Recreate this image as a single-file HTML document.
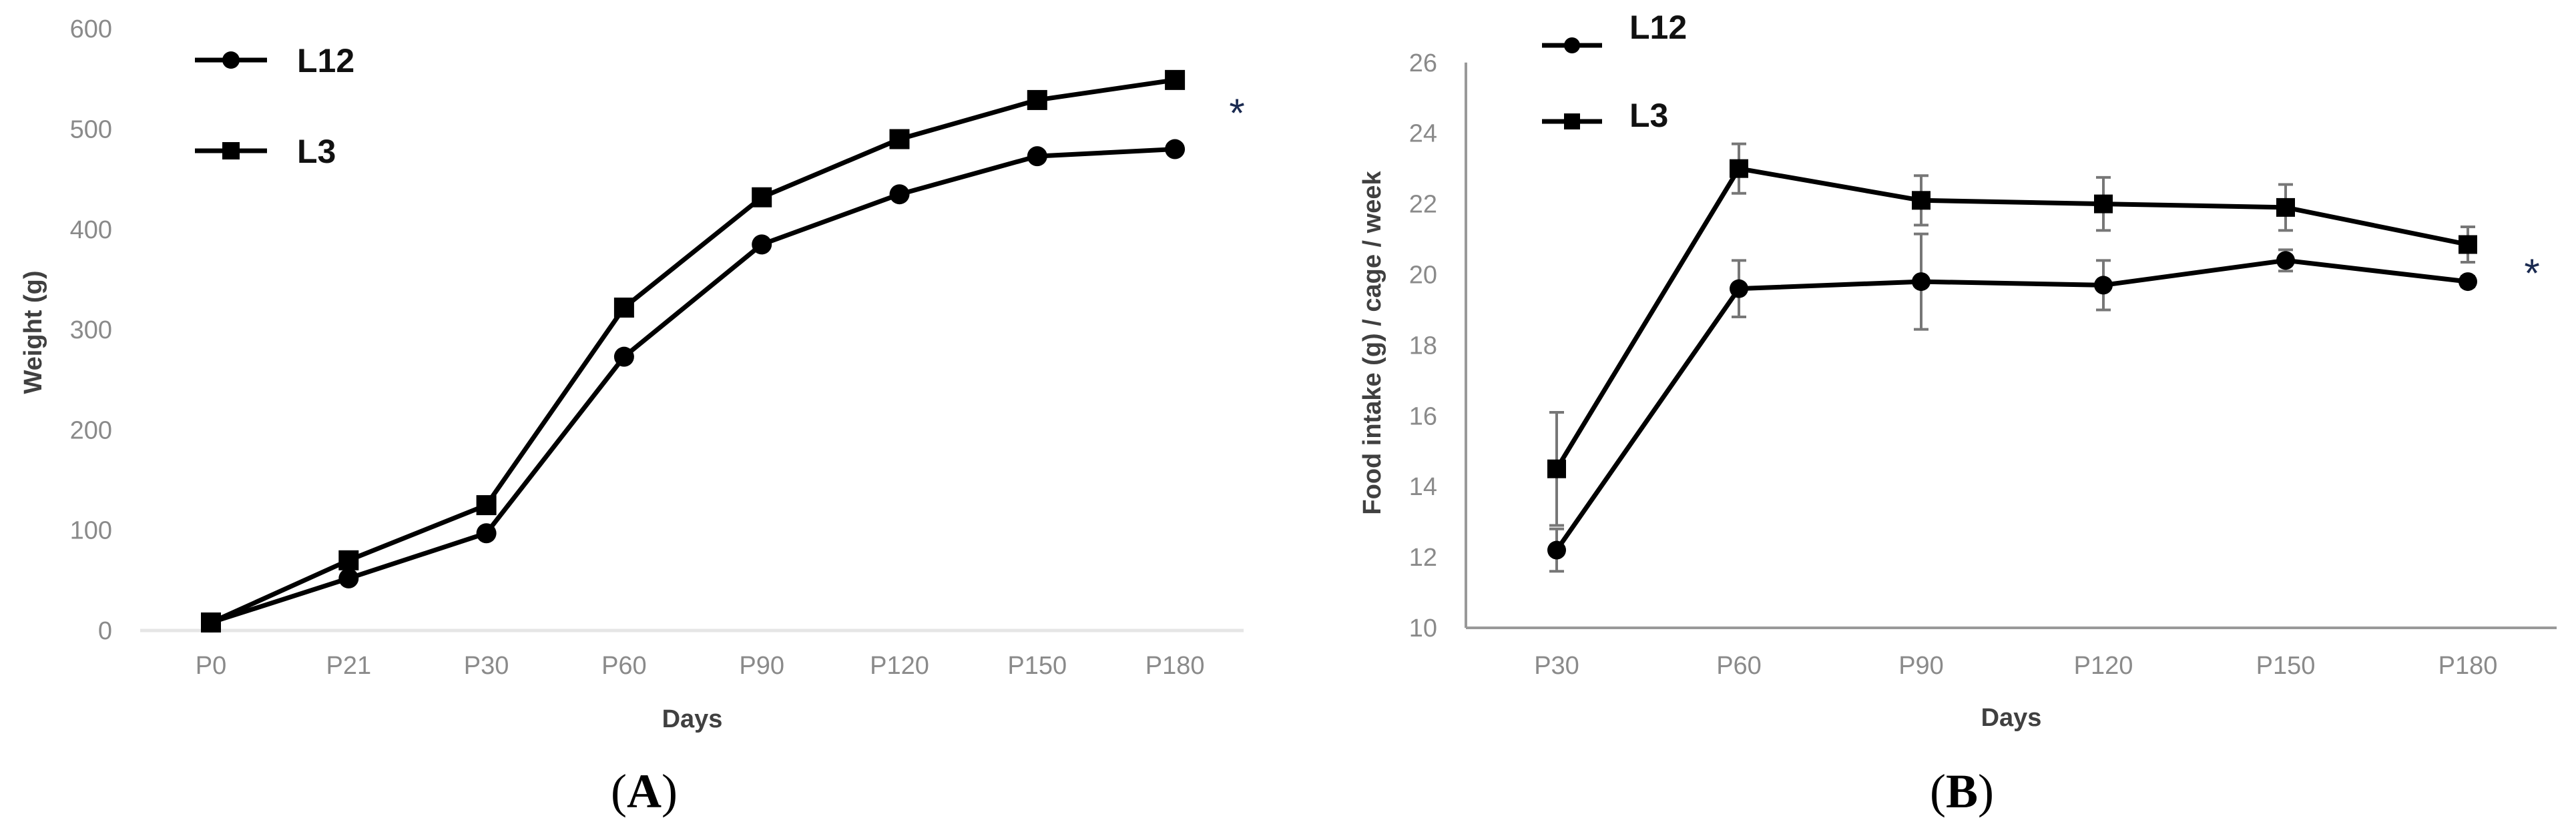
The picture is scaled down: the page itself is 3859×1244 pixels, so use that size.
<!DOCTYPE html>
<html><head><meta charset="utf-8"><style>
html,body{margin:0;padding:0;background:#fff;}
svg{display:block;}
.tick{font-family:"Liberation Sans Narrow","Liberation Sans",sans-serif;font-size:38px;fill:#8a8a8a;}
.ttl{font-family:"Liberation Sans",sans-serif;font-size:38px;font-weight:bold;fill:#404040;}
.leg{font-family:"Liberation Sans Narrow","Liberation Sans",sans-serif;font-size:50px;font-weight:bold;fill:#111;}
.cap{font-family:"Liberation Serif",serif;font-size:72px;fill:#000;}
</style></head><body>
<svg id="fig" width="3859" height="1244" viewBox="0 0 3859 1244" xmlns="http://www.w3.org/2000/svg">
<g id="chartA"></g>
<g id="chartB"></g>
</svg>
<script>
const catsA = ["P0","P21","P30","P60","P90","P120","P150","P180"];
const l12A = [8,52,97,273,385,435,473,480];
const l3A = [8,70,125,322,432,490,529,549];
const ticksA = [0,100,200,300,400,500,600];

const catsB = ["P30","P60","P90","P120","P150","P180"];
const l12B = [12.2,19.6,19.8,19.7,20.4,19.8];
const l12BErr = [0.6,0.8,1.35,0.7,0.3,0.15];
const l3B = [14.5,23.0,22.1,22.0,21.9,20.85];
const l3BErr = [1.6,0.7,0.7,0.75,0.65,0.5];
const ticksB = [10,12,14,16,18,20,22,24,26];

const NS="http://www.w3.org/2000/svg";
function mk(parent,tag,attrs,text){const e=document.createElementNS(NS,tag);for(const k in attrs)e.setAttribute(k,attrs[k]);if(text!==undefined)e.textContent=text;parent.appendChild(e);return e;}

function drawChart(g,o){
  const xS=i=>o.x0+i*o.dx;
  const yS=v=>o.yBase-(v-o.yMin)*o.pxPer;
  // axes
  const base=mk(g,'line',{x1:o.axL,y1:o.yBase,x2:o.axR,y2:o.yBase,stroke:o.baseColor,'stroke-width':o.baseW});
  
  
  if(o.yAxisLine){
    const ya=mk(g,'line',{x1:o.axL,y1:yS(o.ticks[o.ticks.length-1]),x2:o.axL,y2:o.yBase,stroke:'#999','stroke-width':4});
    
    
  }
  o.ticks.forEach(t=>{
    const e=mk(g,'text',{x:o.tickX,y:yS(t)+13,'text-anchor':'end',class:'tick'},String(t));
    
    
  });
  o.cats.forEach((c,i)=>{
    const e=mk(g,'text',{x:xS(i),y:o.xLabY,'text-anchor':'middle',class:'tick'},c);
    
    
  });
  // error bars
  [[o.s1,o.e1],[o.s2,o.e2]].forEach(([s,er])=>{
    if(!er)return;
    s.forEach((v,i)=>{
      const x=xS(i),y1=yS(v+er[i]),y2=yS(v-er[i]);
      const eb=mk(g,'path',{d:`M${x},${y1}V${y2}M${x-11},${y1}H${x+11}M${x-11},${y2}H${x+11}`,stroke:'#777','stroke-width':4,fill:'none'});
      
      
    });
  });
  // lines
  [[o.s1,'l12'],[o.s2,'l3']].forEach(([s,n])=>{
    const p=mk(g,'polyline',{points:s.map((v,i)=>xS(i)+','+yS(v)).join(' '),fill:'none',stroke:'#000','stroke-width':o.lw,'stroke-linejoin':'round'});
    
    
  });
  o.s1.forEach((v,i)=>{
    const c=mk(g,'circle',{cx:xS(i),cy:yS(v),r:o.mr,fill:'#000'});
    
    
  });
  o.s2.forEach((v,i)=>{
    const r=mk(g,'rect',{x:xS(i)-o.ms/2,y:yS(v)-o.ms/2,width:o.ms,height:o.ms,fill:'#000'});
    
    
  });
  // legend
  const lg=mk(g,'g',{});
  
  
  const l1=mk(lg,'g',{});
  
  
  mk(l1,'line',{x1:o.legX1,y1:o.legY1,x2:o.legX2,y2:o.legY1,stroke:'#000','stroke-width':o.lw});
  mk(l1,'circle',{cx:(o.legX1+o.legX2)/2,cy:o.legY1,r:o.mr-2,fill:'#000'});
  mk(l1,'text',{x:o.legTX,y:o.legT1Y,class:'leg'},'L12');
  const l2=mk(lg,'g',{});
  
  
  mk(l2,'line',{x1:o.legX1,y1:o.legY2,x2:o.legX2,y2:o.legY2,stroke:'#000','stroke-width':o.lw});
  mk(l2,'rect',{x:(o.legX1+o.legX2)/2-o.ms/2+2,y:o.legY2-o.ms/2+2,width:o.ms-4,height:o.ms-4,fill:'#000'});
  mk(l2,'text',{x:o.legTX,y:o.legT2Y,class:'leg'},'L3');
  // asterisk
  const a=mk(g,'text',{x:o.astX,y:o.astY,'text-anchor':'middle',style:'font-family:"Liberation Sans",sans-serif;font-size:60px;fill:#1a2a50'},'*');
  
  
  // titles
  const yt=mk(g,'text',{x:0,y:0,transform:`translate(${o.ytX},${o.ytY}) rotate(-90)`,'text-anchor':'middle',class:'ttl'},o.yTitle);
  
  
  const xt=mk(g,'text',{x:o.xtX,y:o.xtY,'text-anchor':'middle',class:'ttl'},'Days');
  
  
  const cp=mk(g,'text',{x:o.capX,y:o.capY,'text-anchor':'middle',class:'cap'});
  
  
  mk(cp,'tspan',{},'(');
  mk(cp,'tspan',{'font-weight':'bold'},o.cap);
  mk(cp,'tspan',{},')');
}

drawChart(document.getElementById('chartA'),{
  cats:catsA,s1:l12A,s2:l3A,ticks:ticksA,x0:316,dx:206.3,yBase:945,yMin:0,pxPer:150.3/100,
  axL:210,axR:1863,baseColor:'#e6e6e6',baseW:5,yAxisLine:false,tickX:168,xLabY:1010,
  lw:7,mr:15,ms:30,legX1:292,legX2:400,legY1:90,legY2:226,legTX:445,legT1Y:108,legT2Y:244,
  astX:1853,astY:190,yTitle:'Weight (g)',ytX:62,ytY:498,xtX:1037,xtY:1090,cap:'A',capX:965,capY:1210
});
drawChart(document.getElementById('chartB'),{
  cats:catsB,s1:l12B,s2:l3B,e1:l12BErr,e2:l3BErr,ticks:ticksB,x0:2332,dx:273,yBase:941,yMin:10,pxPer:105.9/2,
  axL:2196,axR:3830,baseColor:'#999',baseW:4,yAxisLine:true,tickX:2153,xLabY:1010,
  lw:7,mr:14,ms:28,legX1:2310,legX2:2400,legY1:68,legY2:182,legTX:2441,legT1Y:58,legT2Y:190,
  astX:3793,astY:430,yTitle:'Food intake (g) / cage / week',ytX:2068,ytY:514,xtX:3013,xtY:1088,cap:'B',capX:2939,capY:1210
});
</script>
</body></html>
